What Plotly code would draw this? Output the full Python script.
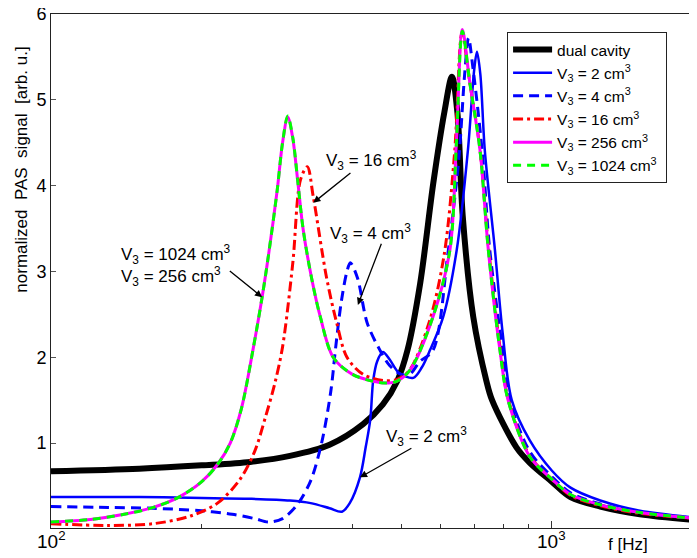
import math
import plotly.graph_objects as go

# ---------------- data ----------------
f_dual = [100, 150, 200, 250, 300, 360, 420, 460, 492, 515, 546, 580, 610, 632, 648, 664, 697, 740, 760, 850, 904, 1000, 1090, 1250, 1500, 1950]
y_dual = [0.67, 0.70, 0.74, 0.78, 0.85, 0.98, 1.22, 1.45, 1.73, 2.08, 2.86, 4.03, 4.85, 5.27, 4.85, 3.65, 2.47, 1.73, 1.50, 0.95, 0.77, 0.55, 0.37, 0.26, 0.17, 0.10]

f_v2 = [100, 150, 200, 250, 300, 330, 360, 381, 395, 414, 425, 434, 440, 448, 460, 475, 495, 529, 550, 571, 607, 646, 680, 700, 709, 720, 735, 770, 798, 832, 904, 1000, 1090, 1250, 1500, 1950]
y_v2 = [0.37, 0.37, 0.36, 0.35, 0.33, 0.30, 0.24, 0.20, 0.30, 0.60, 0.95, 1.27, 1.73, 1.95, 2.06, 1.97, 1.82, 1.76, 1.88, 2.08, 2.47, 3.25, 4.41, 5.35, 5.56, 5.30, 4.41, 3.25, 2.28, 1.50, 1.03, 0.68, 0.48, 0.33, 0.21, 0.13]

f_v4 = [100, 130, 160, 200, 230, 255, 272, 290, 310, 330, 347, 362, 370, 380, 390, 396, 409, 428, 454, 475, 500, 520, 545, 579, 620, 652, 670, 682, 695, 726, 752, 798, 825, 904, 1000, 1090, 1250, 1500, 1950]
y_v4 = [0.26, 0.25, 0.24, 0.21, 0.17, 0.12, 0.08, 0.12, 0.28, 0.56, 1.00, 1.60, 2.10, 2.65, 3.00, 3.10, 2.93, 2.40, 2.08, 1.90, 1.80, 1.80, 1.95, 2.08, 3.20, 4.30, 5.30, 5.72, 5.40, 4.41, 3.25, 2.08, 1.50, 0.90, 0.61, 0.42, 0.29, 0.19, 0.12]

f_v16 = [100, 130, 160, 190, 215, 238, 255, 268, 280, 290, 304, 315, 325, 334, 355, 372, 390, 420, 460, 490, 520, 570, 610, 640, 662, 686, 718, 747, 788, 818, 904, 1000, 1090, 1250, 1500, 1950]
y_v16 = [0.06, 0.04, 0.06, 0.15, 0.30, 0.57, 0.90, 1.30, 1.70, 2.12, 3.10, 4.07, 4.22, 3.87, 2.93, 2.40, 2.00, 1.80, 1.73, 1.74, 1.85, 2.42, 3.20, 4.40, 5.78, 5.20, 4.45, 3.30, 2.12, 1.52, 0.85, 0.58, 0.39, 0.27, 0.18, 0.12]

f_v256 = [100, 120, 140, 160, 180, 200, 215, 228, 240, 253, 264, 272, 283, 290, 297, 304, 311, 319, 332, 345, 366, 400, 440, 465, 490, 521, 579, 626, 645, 663, 686, 719, 747, 788, 818, 904, 1000, 1090, 1250, 1500, 1950]
y_v256 = [0.08, 0.11, 0.17, 0.25, 0.37, 0.55, 0.75, 1.00, 1.40, 2.08, 2.70, 3.20, 3.95, 4.50, 4.80, 4.55, 4.05, 3.48, 2.90, 2.47, 2.00, 1.80, 1.72, 1.70, 1.72, 1.85, 2.47, 3.25, 4.50, 5.82, 5.20, 4.41, 3.25, 2.08, 1.50, 0.84, 0.58, 0.40, 0.28, 0.19, 0.12]

f_v1024 = [100, 120, 140, 160, 180, 200, 215, 228, 240, 253, 264, 272, 283, 290, 297, 304, 311, 319, 332, 345, 366, 400, 440, 465, 490, 521, 579, 626, 645, 663, 686, 719, 747, 788, 818, 904, 1000, 1090, 1250, 1500, 1950]
y_v1024 = [0.08, 0.11, 0.17, 0.25, 0.37, 0.55, 0.75, 1.00, 1.40, 2.08, 2.70, 3.20, 3.95, 4.50, 4.81, 4.56, 4.05, 3.48, 2.90, 2.47, 2.00, 1.80, 1.72, 1.70, 1.72, 1.85, 2.47, 3.25, 4.50, 5.80, 5.20, 4.41, 3.25, 2.08, 1.50, 0.84, 0.58, 0.40, 0.28, 0.19, 0.12]

names = ["dual cavity",
         "V<sub>3</sub> = 2 cm<sup>3</sup>",
         "V<sub>3</sub> = 4 cm<sup>3</sup>",
         "V<sub>3</sub> = 16 cm<sup>3</sup>",
         "V<sub>3</sub> = 256 cm<sup>3</sup>",
         "V<sub>3</sub> = 1024 cm<sup>3</sup>"]

x_tickvals = [100, 1000]
x_ticktext = ["10<sup>2</sup>", "10<sup>3</sup>"]
x_minor = [200, 300, 400, 500, 600, 700, 800, 900, 2000]
y_tickvals = [1, 2, 3, 4, 5, 6]

FONT = "Liberation Sans, Arial, sans-serif"

fig = go.Figure()
styles = [
    (f_dual, y_dual, "#000000", 6, "solid"),
    (f_v2, y_v2, "#0000ff", 2.5, "solid"),
    (f_v4, y_v4, "#0000ff", 3, "10px,6px"),
    (f_v16, y_v16, "#ff0000", 3, "10px,4px,3px,4px"),
    (f_v256, y_v256, "#ff00ff", 3, "solid"),
    (f_v1024, y_v1024, "#00ff00", 3, "8px,6px"),
]
for (fx, fy, col, w, dash), nm in zip(styles, names):
    fig.add_trace(go.Scatter(x=fx, y=fy, mode="lines", name=nm + "\u00a0",
                             line=dict(color=col, width=w, dash=dash, shape="spline", smoothing=0.9)))

L = math.log10

def arrow(tip_f, tip_y, tail_f, tail_y):
    return dict(x=L(tip_f), y=tip_y, ax=L(tail_f), ay=tail_y, xref="x", yref="y",
                axref="x", ayref="y", text="", showarrow=True, arrowhead=2,
                arrowsize=1.1, arrowwidth=1.3, arrowcolor="#000000")

def label(f, y, txt, anchor="center"):
    return dict(x=L(f), y=y, xref="x", yref="y", text=txt, showarrow=False,
                xanchor=anchor, yanchor="middle", align="left",
                font=dict(family=FONT, size=17, color="#000"))

annotations = [
    arrow(334, 3.80, 399, 4.16),
    arrow(410, 2.61, 458, 3.34),
    arrow(264, 2.70, 226, 3.02),
    arrow(414, 0.60, 528, 0.95),
    label(436, 4.29, names[3]),
    label(434, 3.44, names[2]),
    label(137, 3.07, names[5] + "<br>" + names[4], "left"),
    label(561, 1.08, names[1]),
    dict(x=0.893, y=-0.033, xref="paper", yref="paper", text="f [Hz]", showarrow=False,
         xanchor="center", yanchor="middle", font=dict(family=FONT, size=17, color="#000")),
    dict(x=-0.045, y=0.697, xref="paper", yref="paper",
         text="normalized\u00a0\u00a0PAS\u00a0\u00a0signal\u00a0\u00a0[arb.\u00a0u.]",
         showarrow=False, textangle=-90, xanchor="center", yanchor="middle",
         font=dict(family=FONT, size=17, color="#000")),
]
# x tick labels drawn close to the axis, as in the reference
for tv, tt in zip(x_tickvals, x_ticktext):
    annotations.append(dict(x=L(tv), y=0, xref="x", yref="paper", text=tt, showarrow=False,
                            xanchor="center", yanchor="top", yshift=2,
                            font=dict(family=FONT, size=19, color="#000")))

# The page body has an 8px margin: the figure is sized/margined so the plot area
# lands at window pixels x 51..697, y 14..528.
fig.update_layout(
    width=689, height=550,
    margin=dict(l=43, r=0, t=6, b=30, autoexpand=False),
    paper_bgcolor="white", plot_bgcolor="white",
    font=dict(family=FONT, size=18, color="#000"),
    showlegend=True,
    legend=dict(x=0.706, y=0.965, xanchor="left", yanchor="top",
                bgcolor="white", bordercolor="#222", borderwidth=1,
                font=dict(family=FONT, size=15.5, color="#000"),
                tracegroupgap=0, itemwidth=39),
    annotations=annotations,
)
fig.update_xaxes(type="log", range=[2, L(1950)], tickmode="array",
                 tickvals=x_tickvals, showticklabels=False, ticks="inside", ticklen=7,
                 tickcolor="#333", showline=True, linecolor="#222", linewidth=1,
                 mirror=True, showgrid=False, zeroline=False, automargin=False,
                 minor=dict(tickmode="array", tickvals=x_minor, ticks="inside",
                            ticklen=4, tickcolor="#333", showgrid=False))
fig.update_yaxes(range=[0.01, 6], tickmode="array", tickvals=y_tickvals,
                 ticks="inside", ticklen=5, tickcolor="#555", showline=True,
                 linecolor="#222", linewidth=1, showgrid=False, zeroline=False,
                 automargin=False, ticklabeloverflow="allow",
                 tickfont=dict(family=FONT, size=18))

fig.write_html("out.html")
